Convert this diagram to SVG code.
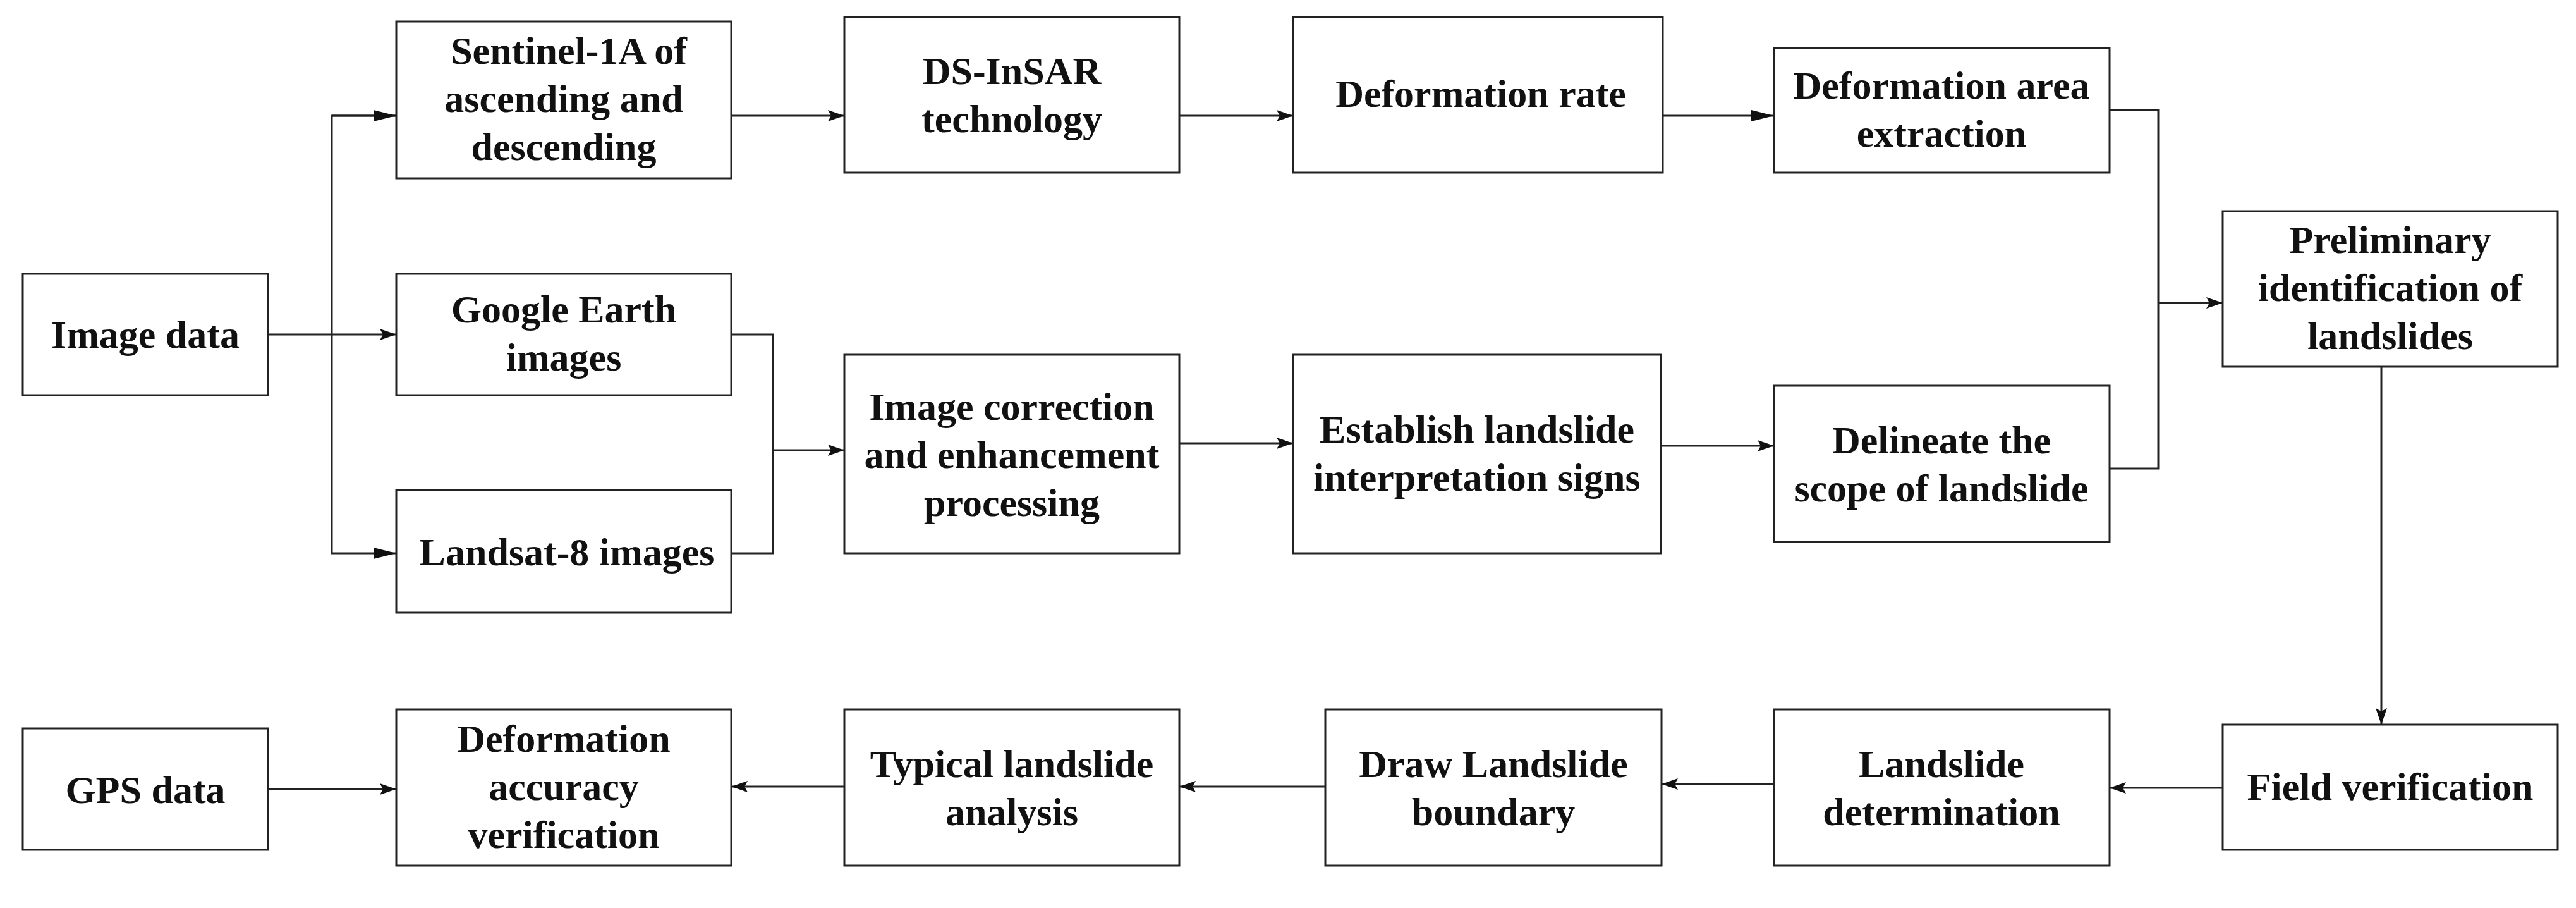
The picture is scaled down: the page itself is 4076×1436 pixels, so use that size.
<svg xmlns="http://www.w3.org/2000/svg" width="4076" height="1436" viewBox="0 0 4076 1436">
<style>
.b{fill:#fff;stroke:#222;stroke-width:3}
.t text{font-family:'Liberation Serif','Times New Roman','DejaVu Serif',serif;font-weight:bold;font-size:62px;fill:#111;text-anchor:middle}
.c{fill:none;stroke:#222;stroke-width:3}
</style>
<defs>
<marker id="m" markerWidth="26" markerHeight="18" refX="26" refY="9" orient="auto" markerUnits="userSpaceOnUse"><path d="M0,0L26,9L0,18L5,9z" fill="#111"/></marker>
<marker id="A" markerWidth="36" markerHeight="18" refX="36" refY="9" orient="auto" markerUnits="userSpaceOnUse"><path d="M0,0L36,9L0,18z" fill="#111"/></marker>
</defs>
<g id="connectors">
<path class="c" d="M424,529H627" marker-end="url(#m)"/>
<path class="c" d="M627,183H525V875H627" marker-end="url(#A)"/>
<path class="c" d="M525,183H627" marker-end="url(#A)"/>
<path class="c" d="M1157,183H1336" marker-end="url(#m)"/>
<path class="c" d="M1866,183H2046" marker-end="url(#m)"/>
<path class="c" d="M2631,183H2807" marker-end="url(#A)"/>
<path class="c" d="M1157,529H1223V875H1157"/>
<path class="c" d="M1223,712H1336" marker-end="url(#m)"/>
<path class="c" d="M1866,701H2046" marker-end="url(#m)"/>
<path class="c" d="M2628,705H2807" marker-end="url(#m)"/>
<path class="c" d="M3338,174H3415V741H3338"/>
<path class="c" d="M3415,479H3517" marker-end="url(#m)"/>
<path class="c" d="M3768,580V1146" marker-end="url(#m)"/>
<path class="c" d="M3517,1246H3338" marker-end="url(#m)"/>
<path class="c" d="M2807,1240H2629" marker-end="url(#m)"/>
<path class="c" d="M2097,1244H1866" marker-end="url(#m)"/>
<path class="c" d="M1336,1244H1157" marker-end="url(#m)"/>
<path class="c" d="M424,1248H627" marker-end="url(#m)"/>
</g>
<g class="t" font-family="Liberation Serif, serif">
<g id="n1"><rect class="b" x="36" y="433" width="388" height="192"/><text x="230" y="550">Image data</text></g>
<g id="n2"><rect class="b" x="627" y="34" width="530" height="248"/><text x="900" y="101">Sentinel-1A of</text><text x="892" y="177">ascending and</text><text x="892" y="253">descending</text></g>
<g id="n3"><rect class="b" x="627" y="433" width="530" height="192"/><text x="892" y="510">Google Earth</text><text x="892" y="586">images</text></g>
<g id="n4"><rect class="b" x="627" y="775" width="530" height="194"/><text x="897" y="894">Landsat-8 images</text></g>
<g id="n5"><rect class="b" x="1336" y="27" width="530" height="246"/><text x="1601" y="133">DS-InSAR</text><text x="1601" y="209">technology</text></g>
<g id="n6"><rect class="b" x="2046" y="27" width="585" height="246"/><text x="2343" y="169">Deformation rate</text></g>
<g id="n7"><rect class="b" x="2807" y="76" width="531" height="197"/><text x="3072" y="156">Deformation area</text><text x="3072" y="232">extraction</text></g>
<g id="n8"><rect class="b" x="1336" y="561" width="530" height="314"/><text x="1601" y="664">Image correction</text><text x="1601" y="740">and enhancement</text><text x="1601" y="816">processing</text></g>
<g id="n9"><rect class="b" x="2046" y="561" width="582" height="314"/><text x="2337" y="700">Establish landslide</text><text x="2337" y="776">interpretation signs</text></g>
<g id="n10"><rect class="b" x="2807" y="610" width="531" height="247"/><text x="3072" y="717">Delineate the</text><text x="3072" y="793">scope of landslide</text></g>
<g id="n11"><rect class="b" x="3517" y="334" width="530" height="246"/><text x="3782" y="400">Preliminary</text><text x="3782" y="476">identification of</text><text x="3782" y="552">landslides</text></g>
<g id="n12"><rect class="b" x="3517" y="1146" width="530" height="198"/><text x="3782" y="1265">Field verification</text></g>
<g id="n13"><rect class="b" x="2807" y="1122" width="531" height="247"/><text x="3072" y="1229">Landslide</text><text x="3072" y="1305">determination</text></g>
<g id="n14"><rect class="b" x="2097" y="1122" width="532" height="247"/><text x="2363" y="1229">Draw Landslide</text><text x="2363" y="1305">boundary</text></g>
<g id="n15"><rect class="b" x="1336" y="1122" width="530" height="247"/><text x="1601" y="1229">Typical landslide</text><text x="1601" y="1305">analysis</text></g>
<g id="n16"><rect class="b" x="627" y="1122" width="530" height="247"/><text x="892" y="1189">Deformation</text><text x="892" y="1265">accuracy</text><text x="892" y="1341">verification</text></g>
<g id="n17"><rect class="b" x="36" y="1152" width="388" height="192"/><text x="230" y="1270">GPS data</text></g>
</g>
</svg>
